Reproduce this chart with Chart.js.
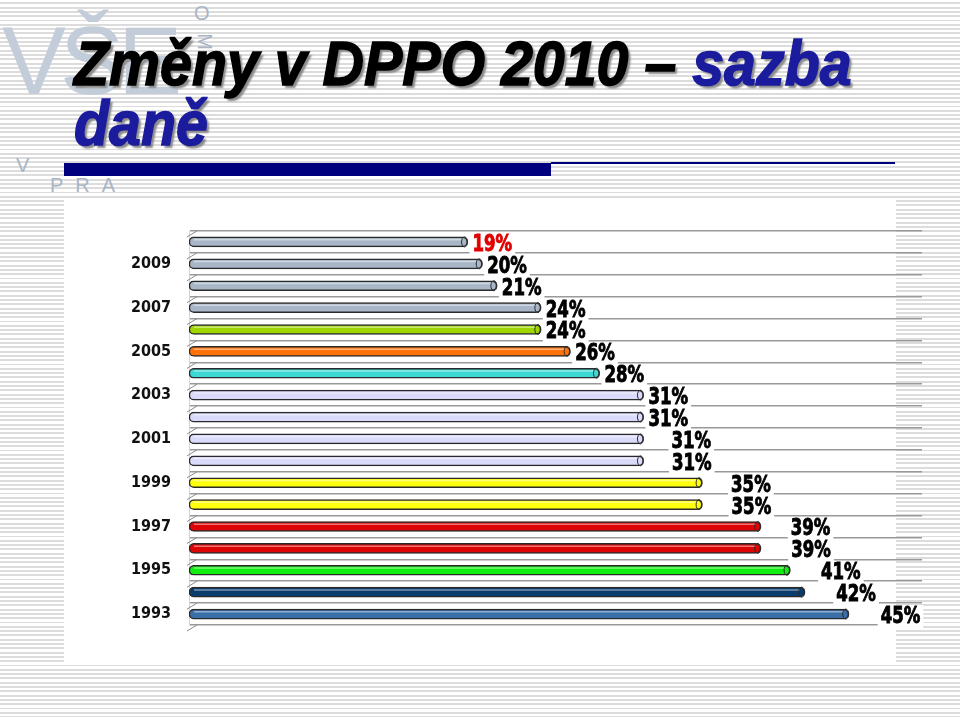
<!DOCTYPE html>
<html>
<head>
<meta charset="utf-8">
<script src="https://cdn.jsdelivr.net/npm/chart.js@4.4.0/dist/chart.umd.min.js"></script>
<style>
  body {
    margin: 0; width: 960px; height: 717px; overflow: hidden; position: relative;
    background: repeating-linear-gradient(to bottom, #fff 0, #fff 2.3px, #dcdcdc 2.3px, #dcdcdc 4.3px);
    font-family: "Liberation Sans", sans-serif;
  }
  .logo { position: absolute; left: 2px; top: 6px; font: 96px "Liberation Sans", sans-serif; color: #c3cdd9; letter-spacing: -6px; }
  .deco { position: absolute; font: 20px "Liberation Sans", sans-serif; color: #a9b5c4; }
  .title {
    position: absolute; left: 74px; top: 33px; margin: 0;
    font: italic bold 63px/60px "Liberation Sans", sans-serif;
    color: #000; text-shadow: 3px 3px 2px #8a8a8a;
    -webkit-text-stroke: 1.5px currentColor;
    transform: scaleX(0.91); transform-origin: left top; white-space: nowrap;
  }
  .title span { color: #1b1b9e; }
  .bar-thick { position: absolute; left: 64px; top: 163px; width: 487px; height: 13px; background: #00007f; }
  .bar-thin { position: absolute; left: 551px; top: 162px; width: 344px; height: 1.5px; background: #00007f; }
  .panel { position: absolute; left: 64px; top: 199px; width: 832px; height: 463px; background: #fff; }
  canvas { position: absolute; left: 0; top: 0; }
</style>
</head>
<body>
<div class="logo">VŠE</div>
<div class="deco" style="left:16px;top:154px">V</div>
<div class="deco" style="left:50px;top:174px;letter-spacing:12px">PRA</div>
<div class="deco" style="left:194px;top:2px">O</div>
<div class="deco" style="left:196px;top:30px;transform:rotate(90deg)">M</div>
<h1 class="title">Změny v DPPO 2010 – <span>sazba<br>daně</span></h1>
<div class="bar-thick"></div>
<div class="bar-thin"></div>
<div class="panel"></div>
<canvas id="rateChart" width="960" height="717"></canvas>
<script>
// sazba DPPO podle roku (shora 2010)
const years = ['2010', '2009', '2008', '2007', '2006', '2005', '2004', '2003', '2002',
               '2001', '2000', '1999', '1998', '1997', '1996', '1995', '1994', '1993'];
const rates = [19, 20, 21, 24, 24, 26, 28, 31, 31, 31, 31, 35, 35, 39, 39, 41, 42, 45];
const barColors = ['#a8b6c8', '#a8b6c8', '#a8b6c8', '#a8b6c8', '#9fd600', '#ff7208', '#3cd8d4',
                   '#dadafa', '#dadafa', '#dadafa', '#dadafa', '#ffff10', '#ffff10',
                   '#dc0404', '#dc0404', '#10ee10', '#0b3c6e', '#3a6ea6'];
const labelColors = ['#e00000'].concat(Array(17).fill('#000'));

const condensed = '"DejaVu Sans Condensed", "DejaVu Sans", sans-serif';

// 3D look: wall diagonals, highlight and end caps on bars, value labels
const decoPlugin = {
  id: 'deco',
  beforeDatasetsDraw(chart) {
    const ctx = chart.ctx, area = chart.chartArea;
    const step = (area.bottom - area.top) / years.length;
    ctx.save();
    ctx.strokeStyle = '#8c8c8c';
    ctx.lineWidth = 1;
    for (let i = 0; i <= years.length; i++) {
      const y = area.top + i * step;
      ctx.beginPath();
      ctx.moveTo(area.left - 2, y + 6);
      ctx.lineTo(area.left + 8, y);
      ctx.stroke();
    }
    ctx.restore();
  },
  afterDatasetsDraw(chart) {
    const ctx = chart.ctx;
    const meta = chart.getDatasetMeta(0);
    ctx.save();
    meta.data.forEach((bar, i) => {
      const r = bar.height / 2;
      // highlight
      ctx.strokeStyle = 'rgba(255,255,255,0.45)';
      ctx.lineWidth = 1.5;
      ctx.beginPath();
      ctx.moveTo(bar.base + r, bar.y - r * 0.45);
      ctx.lineTo(bar.x - r, bar.y - r * 0.45);
      ctx.stroke();
      // end cap
      ctx.strokeStyle = '#2a2a2a';
      ctx.lineWidth = 1;
      ctx.beginPath();
      ctx.ellipse(bar.x - r * 0.6, bar.y, r * 0.6, r, 0, 0, Math.PI * 2);
      ctx.stroke();
      // label
      const txt = rates[i] + '%';
      ctx.font = 'bold 23px ' + condensed;
      const sx = 0.8;
      const w = ctx.measureText(txt).width * sx;
      const x = bar.x + (i < 9 ? 5 : 28 + (i - 9) * 0.5);
      const y = bar.y + 3;
      ctx.fillStyle = '#fff';
      ctx.fillRect(x - 3, y - 12, w + 6, 23);
      ctx.save();
      ctx.translate(x, y);
      ctx.scale(sx, 1);
      ctx.fillStyle = labelColors[i];
      ctx.strokeStyle = labelColors[i];
      ctx.lineWidth = 0.9;
      ctx.textBaseline = 'middle';
      ctx.fillText(txt, 0, 0);
      ctx.strokeText(txt, 0, 0);
      ctx.restore();
    });
    ctx.restore();
  }
};

const ctx = document.getElementById('rateChart').getContext('2d');
const rateChart = new Chart(ctx, {
  type: 'bar',
  data: {
    labels: years,
    datasets: [{
      data: rates,
      backgroundColor: barColors,
      borderColor: '#2a2a2a',
      borderWidth: 1.5,
      borderRadius: 5,
      borderSkipped: false,
      barThickness: 10
    }]
  },
  plugins: [decoPlugin],
  options: {
    indexAxis: 'y',
    responsive: false,
    animation: false,
    layout: { padding: { left: 129, right: 38, top: 231, bottom: 92 } },
    plugins: { legend: { display: false }, tooltip: { enabled: false } },
    scales: {
      x: { display: false, min: 0, max: 50 },
      y: {
        afterFit(scale) { scale.width = 60; },
        grid: { offset: true, color: '#999', lineWidth: 1.5, drawTicks: false },
        border: { color: '#d4d4d4', width: 1 },
        ticks: {
          autoSkip: false,
          padding: 18,
          color: '#111',
          font: { family: condensed, weight: 'bold', size: 16 },
          callback: (v, i) => (i % 2 === 1 ? years[i] : '')
        }
      }
    }
  }
});
</script>
</body>
</html>
